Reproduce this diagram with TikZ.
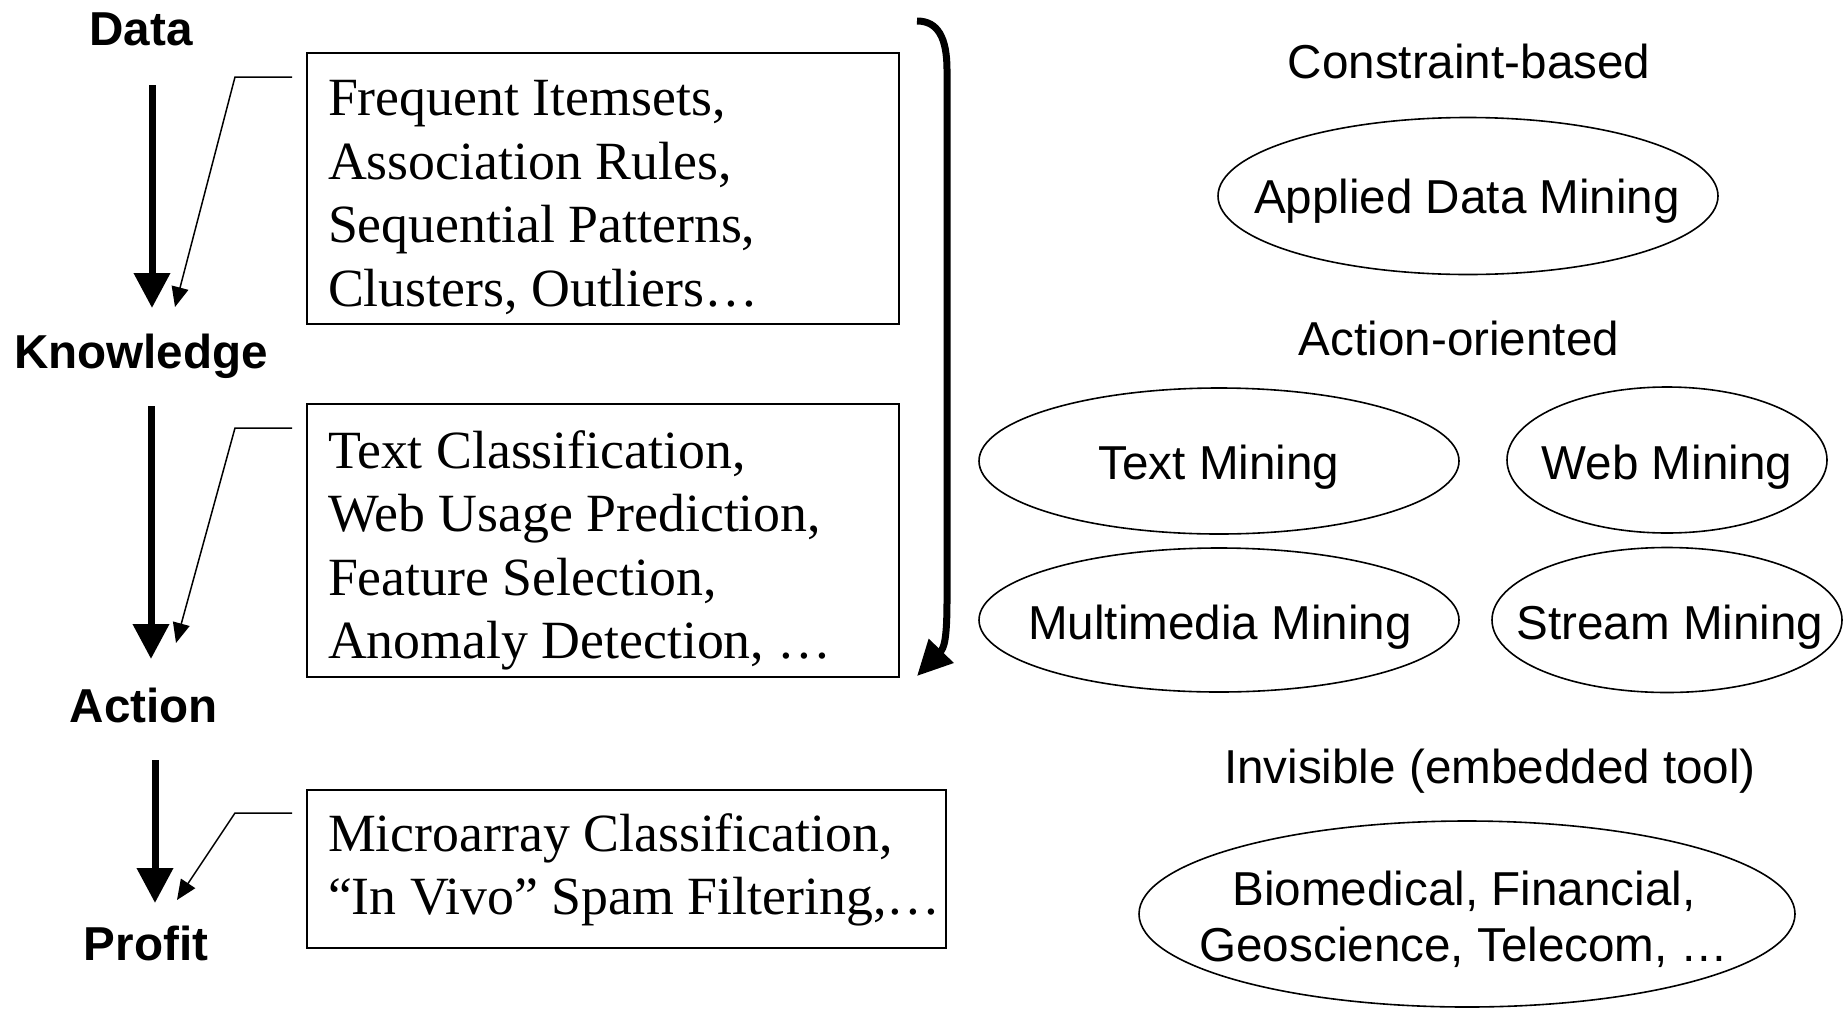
\documentclass[tikz,border=0pt]{standalone}
\usepackage{fontspec}
\setmainfont{Liberation Serif}
\setsansfont{Liberation Sans}
\usetikzlibrary{arrows.meta,shapes.geometric}

\begin{document}
\begin{tikzpicture}[x=1pt, y=-1pt,
  every node/.style={inner sep=0pt, outer sep=0pt},
  stage/.style={font=\sffamily\bfseries\fontsize{47.6pt}{54pt}\selectfont, anchor=base},
  headtxt/.style={font=\sffamily\fontsize{47.6pt}{54pt}\selectfont, anchor=base},
  oval/.style={draw, ellipse, line width=1.6pt},
  ovaltxt/.style={font=\sffamily\fontsize{47.6pt}{56pt}\selectfont, anchor=base, align=center},
  itembox/.style={draw, rectangle, line width=1.6pt, anchor=north west},
  itemtxt/.style={font=\rmfamily\fontsize{53.8pt}{63.5pt}\selectfont, align=left, anchor=west},
  flow/.style={line width=7pt, -{Triangle[length=35pt,width=35pt]}},
  callout/.style={line width=1.5pt, -{Triangle[length=20pt,width=17pt]}},
]
\useasboundingbox (0,0) rectangle (1845,1010);

% stages of the process
\node[stage] (data)      at (141,45)  {Data};
\node[stage] (knowledge) at (141,368) {Knowledge};
\node[stage] (action)    at (144,722) {Action};
\node[stage] (profit)    at (146,960) {Profit};

\coordinate (f1s) at (152,85);  \coordinate (f1e) at (152,308);
\coordinate (f2s) at (151,406); \coordinate (f2e) at (151,659);
\coordinate (f3s) at (155,760); \coordinate (f3e) at (155,903);
\draw[flow] (f1s) -- (f1e);
\draw[flow] (f2s) -- (f2e);
\draw[flow] (f3s) -- (f3e);

% example tasks for each step
\node[itembox, minimum width=592pt, minimum height=271pt] (b1) at (307,53) {};
\node[itembox, minimum width=592pt, minimum height=273pt] (b2) at (307,404) {};
\node[itembox, minimum width=639pt, minimum height=158pt] (b3) at (307,790) {};

\node[itemtxt] (t1) at (328,197.5) {Frequent Itemsets,\\Association Rules,\\Sequential Patterns,\\Clusters, Outliers…};
\node[itemtxt] (t2) at (328,550.5) {Text Classification,\\Web Usage Prediction,\\Feature Selection,\\Anomaly Detection, …};
\node[itemtxt] (t3) at (328,870) {Microarray Classification,\\“In Vivo” Spam Filtering,…};

% callouts from the boxes to the steps
\coordinate (c1a) at (292,77);  \coordinate (c1b) at (235,77);  \coordinate (c1e) at (175,307);
\coordinate (c2a) at (292,428); \coordinate (c2b) at (235,428); \coordinate (c2e) at (176,643);
\coordinate (c3a) at (292,813); \coordinate (c3b) at (235,813); \coordinate (c3e) at (177,900);
\draw[callout] (c1a) -- (c1b) -- (c1e);
\draw[callout] (c2a) -- (c2b) -- (c2e);
\draw[callout] (c3a) -- (c3b) -- (c3e);

% bracket arrow
\coordinate (brs) at (917,21);
\coordinate (bre) at (917,676);
\draw[line width=7pt, -{Triangle[length=35pt,width=33pt]}]
  (brs) .. controls (938,21) and (947,38) .. (947,70)
  -- (947,600) .. controls (947,640) and (944,648) .. (bre);

% kinds of data mining
\node[headtxt] (cb) at (1469,78) {Constraint-based};
\node[oval, minimum width=500pt, minimum height=157pt] (adm) at (1468,196) {};
\node[ovaltxt] (admt) at (1467,213) {Applied Data Mining};

\node[headtxt] (ao) at (1459,355) {Action-oriented};
\node[oval, minimum width=480pt, minimum height=146pt] (tm) at (1219,461) {};
\node[ovaltxt] (tmt) at (1219,479) {Text Mining};
\node[oval, minimum width=320pt, minimum height=146pt] (wm) at (1667,460) {};
\node[ovaltxt] (wmt) at (1667,479) {Web Mining};
\node[oval, minimum width=480pt, minimum height=144pt] (mm) at (1219,620) {};
\node[ovaltxt] (mmt) at (1220,639) {Multimedia Mining};
\node[oval, minimum width=350pt, minimum height=145pt] (sm) at (1667,620) {};
\node[ovaltxt] (smt) at (1670,639) {Stream Mining};

\node[headtxt] (inv) at (1490,783) {Invisible (embedded tool)};
\node[oval, minimum width=656pt, minimum height=186pt] (bio) at (1467,914) {};
\node[ovaltxt, anchor=center] (biot) at (1464,919) {Biomedical, Financial,\\Geoscience, Telecom, …};
\end{tikzpicture}
\end{document}
